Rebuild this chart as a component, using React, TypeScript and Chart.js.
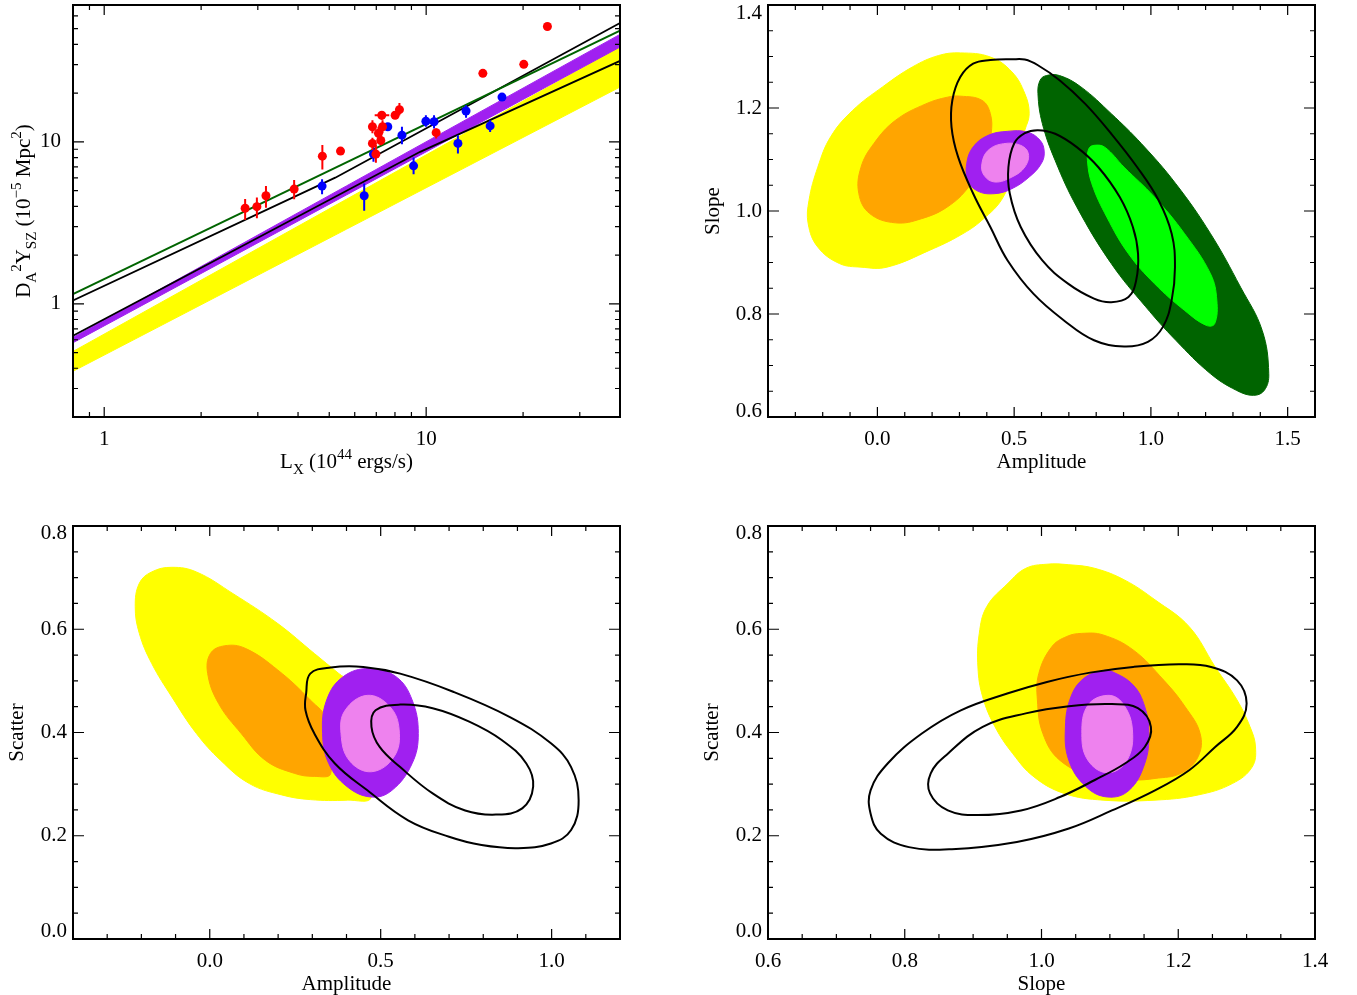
import React, { useEffect, useRef } from 'react';
import { Chart, registerables } from 'chart.js';

Chart.register(...registerables);

const SERIF = '"Liberation Serif", "Times New Roman", "DejaVu Serif", serif';
const FONT_SIZE = 21;

type Pt = [number, number];

// ================= Panel 1: D_A^2 Y_SZ vs L_X =================
const redLx = [2.74, 2.98, 3.18, 3.89, 4.76, 5.42, 6.81, 6.81, 6.98, 7.11, 7.23, 7.32, 7.28, 8.01, 8.26, 10.74, 15.0, 20.1, 23.8];
const redY = [3.89, 3.98, 4.65, 5.11, 8.16, 8.77, 9.78, 12.4, 8.4, 11.3, 10.2, 12.4, 14.6, 14.6, 15.8, 11.4, 26.5, 30.1, 51.6];
const redYLo = [3.29, 3.37, 3.92, 4.42, 6.76, 8.45, 8.89, 11.3, 7.42, 10.2, 9.54, 11.3, 13.7, 13.9, 14.6, 10.5, 26.5, 30.1, 51.6];
const redYHi = [4.43, 4.54, 5.33, 5.81, 9.55, 9.1, 10.6, 13.6, 9.55, 12.4, 11.0, 13.6, 15.3, 15.4, 17.4, 12.1, 26.5, 30.1, 51.6];
const redLxLo = [2.74, 2.98, 3.18, 3.89, 4.76, 5.42, 6.81, 6.81, 6.98, 7.11, 7.23, 7.32, 6.92, 8.01, 8.26, 10.74, 15.0, 20.1, 23.8];
const redLxHi = [2.74, 2.98, 3.18, 3.89, 4.76, 5.42, 6.81, 6.81, 6.98, 7.11, 7.23, 7.32, 7.68, 8.01, 8.26, 10.74, 15.0, 20.1, 23.8];

const blueLx = [4.75, 6.42, 6.86, 7.6, 8.41, 9.14, 9.98, 10.58, 12.55, 13.3, 15.8, 17.2];
const blueY = [5.33, 4.65, 8.4, 12.4, 11.0, 7.11, 13.4, 13.3, 9.78, 15.5, 12.55, 18.9];
const blueYLo = [4.74, 3.76, 7.53, 12.0, 9.68, 6.3, 12.4, 12.1, 8.48, 14.1, 11.5, 18.0];
const blueYHi = [5.87, 5.54, 9.31, 12.8, 12.4, 8.01, 14.6, 14.6, 11.0, 16.8, 13.6, 19.8];

const bandLx = [0.8, 40];
const greenFitY = [1.148, 48.6];
const upperLx = [0.8, 5.22, 40];
const blackUpperY = [1.048, 6.01, 54.2];
const lowerLx = [0.8, 9.58, 40];
const blackLowerY = [0.635, 8.68, 31.6];
const purpleBandTop = [0.62, 46.1];
const purpleBandBottom = [0.575, 38.5];
const yellowBandTop = [0.508, 38.5];
const yellowBandBottom = [0.383, 21.8];

const p1XMajor = [1, 10];
const p1XLabels = ['1', '10'];
const p1XMinor = [0.9, 2, 3, 4, 5, 6, 7, 8, 9, 20, 30];
const p1YMajor = [1, 10];
const p1YLabels = ['1', '10'];
const p1YMinor = [0.3, 0.4, 0.5, 0.6, 0.7, 0.8, 0.9, 2, 3, 4, 5, 6, 7, 8, 9, 20, 30, 40, 50, 60];

// ================= Panel 2: Slope vs Amplitude =================
const p2Yellow: Pt[] = [[0.303, 1.307], [0.413, 1.299], [0.492, 1.27], [0.539, 1.228], [0.555, 1.189], [0.539, 1.157], [0.5, 1.09], [0.46, 1.027], [0.382, 0.982], [0.303, 0.953], [0.192, 0.924], [0.035, 0.891], [-0.06, 0.891], [-0.139, 0.898], [-0.218, 0.93], [-0.253, 0.975], [-0.25, 1.021], [-0.218, 1.085], [-0.171, 1.144], [-0.091, 1.195], [0.019, 1.241], [0.129, 1.28], [0.224, 1.302]];
const p2Orange: Pt[] = [[0.303, 1.223], [0.382, 1.215], [0.413, 1.189], [0.416, 1.15], [0.397, 1.105], [0.334, 1.047], [0.256, 1.008], [0.161, 0.985], [0.066, 0.977], [-0.028, 0.995], [-0.068, 1.034], [-0.06, 1.085], [-0.013, 1.131], [0.066, 1.176], [0.177, 1.208], [0.256, 1.221]];
const p2Purple: Pt[] = [[0.3265, 1.0919], [0.35, 1.1243], [0.405, 1.1469], [0.476, 1.1547], [0.547, 1.1534], [0.595, 1.1372], [0.61, 1.1146], [0.599, 1.0919], [0.555, 1.066], [0.492, 1.0434], [0.429, 1.0337], [0.366, 1.0388], [0.331, 1.0595]];
const p2Violet: Pt[] = [[0.382, 1.0919], [0.405, 1.1178], [0.461, 1.1307], [0.524, 1.1275], [0.552, 1.1113], [0.539, 1.0854], [0.492, 1.066], [0.429, 1.0563], [0.39, 1.0693]];
const p2DarkGreen: Pt[] = [[0.618, 1.263], [0.666, 1.263], [0.744, 1.241], [0.855, 1.189], [0.965, 1.131], [1.091, 1.053], [1.218, 0.956], [1.328, 0.852], [1.407, 0.768], [1.431, 0.684], [1.415, 0.652], [1.375, 0.642], [1.312, 0.652], [1.218, 0.684], [1.091, 0.749], [0.981, 0.814], [0.855, 0.898], [0.729, 1.008], [0.65, 1.098], [0.603, 1.17], [0.587, 1.228], [0.595, 1.254]];
const p2LightGreen: Pt[] = [[0.792, 1.1275], [0.831, 1.124], [0.902, 1.085], [1.013, 1.027], [1.123, 0.956], [1.218, 0.878], [1.241, 0.827], [1.233, 0.781], [1.202, 0.778], [1.123, 0.807], [1.013, 0.859], [0.918, 0.917], [0.839, 0.988], [0.784, 1.053], [0.768, 1.098], [0.773, 1.121]];
const p2BlackOuter: Pt[] = [[0.492, 1.2945], [0.539, 1.294], [0.587, 1.283], [0.666, 1.254], [0.76, 1.208], [0.855, 1.15], [0.95, 1.085], [1.028, 1.021], [1.076, 0.956], [1.088, 0.891], [1.076, 0.827], [1.044, 0.775], [0.989, 0.746], [0.902, 0.737], [0.792, 0.749], [0.681, 0.788], [0.571, 0.839], [0.476, 0.904], [0.413, 0.969], [0.35, 1.034], [0.295, 1.105], [0.271, 1.163], [0.274, 1.215], [0.303, 1.26], [0.35, 1.286], [0.413, 1.293]];
const p2BlackInner: Pt[] = [[0.587, 1.157], [0.65, 1.15], [0.729, 1.124], [0.808, 1.085], [0.886, 1.027], [0.934, 0.969], [0.953, 0.917], [0.946, 0.865], [0.918, 0.833], [0.855, 0.823], [0.792, 0.83], [0.697, 0.859], [0.603, 0.904], [0.524, 0.969], [0.484, 1.034], [0.479, 1.085], [0.5, 1.131], [0.539, 1.151]];

const p2XMajor = [0, 0.5, 1.0, 1.5];
const p2XLabels = ['0.0', '0.5', '1.0', '1.5'];
const p2XMinor = [-0.3, -0.2, -0.1, 0.1, 0.2, 0.3, 0.4, 0.6, 0.7, 0.8, 0.9, 1.1, 1.2, 1.3, 1.4];
const p2YMajor = [0.6, 0.8, 1.0, 1.2, 1.4];
const p2YLabels = ['0.6', '0.8', '1.0', '1.2', '1.4'];
const p2YShifts = [-6, 0, 0, 0, 8];
const p2YMinor = [0.65, 0.7, 0.75, 0.85, 0.9, 0.95, 1.05, 1.1, 1.15, 1.25, 1.3, 1.35];

// ================= Panel 3: Scatter vs Amplitude =================
const p3Yellow: Pt[] = [[-0.111, 0.72], [-0.039, 0.711], [0.068, 0.669], [0.199, 0.611], [0.306, 0.553], [0.378, 0.514], [0.425, 0.489], [0.46, 0.4], [0.473, 0.275], [0.402, 0.269], [0.294, 0.27], [0.211, 0.279], [0.116, 0.301], [0.032, 0.346], [-0.039, 0.398], [-0.111, 0.469], [-0.17, 0.534], [-0.206, 0.592], [-0.218, 0.644], [-0.206, 0.689], [-0.17, 0.711]];
const p3Orange: Pt[] = [[0.044, 0.568], [0.104, 0.563], [0.199, 0.521], [0.294, 0.463], [0.342, 0.424], [0.354, 0.321], [0.306, 0.315], [0.247, 0.321], [0.163, 0.346], [0.092, 0.398], [0.026, 0.456], [-0.006, 0.514], [0.002, 0.553]];
const p3Purple: Pt[] = [[0.33, 0.398], [0.342, 0.463], [0.39, 0.508], [0.467, 0.524], [0.545, 0.508], [0.592, 0.463], [0.61, 0.398], [0.592, 0.34], [0.533, 0.288], [0.473, 0.275], [0.402, 0.295], [0.348, 0.34]];
const p3Violet: Pt[] = [[0.384, 0.398], [0.396, 0.443], [0.461, 0.472], [0.527, 0.45], [0.554, 0.405], [0.539, 0.353], [0.473, 0.324], [0.408, 0.346]];
const p3BlackOuter: Pt[] = [[0.282, 0.476], [0.294, 0.514], [0.354, 0.526], [0.449, 0.527], [0.557, 0.514], [0.712, 0.479], [0.878, 0.43], [0.998, 0.379], [1.057, 0.333], [1.079, 0.269], [1.057, 0.211], [0.998, 0.185], [0.902, 0.176], [0.795, 0.182], [0.7, 0.198], [0.58, 0.23], [0.461, 0.288], [0.366, 0.34], [0.306, 0.398], [0.28, 0.443]];
const p3BlackInner: Pt[] = [[0.473, 0.411], [0.485, 0.443], [0.557, 0.454], [0.652, 0.447], [0.759, 0.421], [0.855, 0.385], [0.926, 0.34], [0.946, 0.295], [0.914, 0.253], [0.837, 0.241], [0.747, 0.249], [0.652, 0.282], [0.557, 0.333], [0.497, 0.372]];

const p3XMajor = [0, 0.5, 1.0];
const p3XLabels = ['0.0', '0.5', '1.0'];
const p3XMinor = [-0.3, -0.2, -0.1, 0.1, 0.2, 0.3, 0.4, 0.6, 0.7, 0.8, 0.9, 1.1];
const scatterMajor = [0, 0.2, 0.4, 0.6, 0.8];
const scatterLabels = ['0.0', '0.2', '0.4', '0.6', '0.8'];
const scatterShifts = [-8, 0, 0, 0, 7];
const scatterMinor = [0.05, 0.1, 0.15, 0.25, 0.3, 0.35, 0.45, 0.5, 0.55, 0.65, 0.7, 0.75];

// ================= Panel 4: Scatter vs Slope =================
const p4Yellow: Pt[] = [[1.008, 0.726], [0.977, 0.718], [0.951, 0.689], [0.92, 0.644], [0.909, 0.592], [0.907, 0.527], [0.914, 0.469], [0.932, 0.411], [0.958, 0.359], [0.989, 0.314], [1.033, 0.282], [1.09, 0.269], [1.166, 0.269], [1.229, 0.279], [1.279, 0.301], [1.308, 0.333], [1.313, 0.372], [1.305, 0.411], [1.286, 0.463], [1.254, 0.527], [1.216, 0.605], [1.166, 0.657], [1.122, 0.695], [1.078, 0.718], [1.04, 0.725]];
const p4Orange: Pt[] = [[1.059, 0.592], [1.09, 0.589], [1.134, 0.56], [1.179, 0.501], [1.21, 0.45], [1.232, 0.398], [1.229, 0.353], [1.204, 0.321], [1.166, 0.311], [1.134, 0.308], [1.078, 0.314], [1.027, 0.346], [1.002, 0.398], [0.994, 0.463], [0.996, 0.514], [1.015, 0.566], [1.037, 0.586]];
const p4Purple: Pt[] = [[1.09, 0.52], [1.103, 0.518], [1.134, 0.492], [1.151, 0.45], [1.157, 0.398], [1.151, 0.34], [1.128, 0.288], [1.097, 0.275], [1.065, 0.295], [1.04, 0.346], [1.035, 0.411], [1.043, 0.469], [1.062, 0.505]];
const p4Violet: Pt[] = [[1.097, 0.472], [1.119, 0.456], [1.133, 0.405], [1.125, 0.346], [1.097, 0.322], [1.068, 0.346], [1.059, 0.398], [1.068, 0.453]];
const p4BlackOuter: Pt[] = [[1.201, 0.532], [1.248, 0.527], [1.286, 0.501], [1.3, 0.456], [1.286, 0.411], [1.254, 0.372], [1.216, 0.327], [1.166, 0.288], [1.103, 0.249], [1.04, 0.214], [0.964, 0.188], [0.869, 0.174], [0.806, 0.178], [0.765, 0.204], [0.75, 0.243], [0.75, 0.288], [0.775, 0.34], [0.825, 0.398], [0.882, 0.443], [0.951, 0.476], [1.008, 0.498], [1.071, 0.516], [1.134, 0.527]];
const p4BlackInner: Pt[] = [[1.103, 0.455], [1.141, 0.447], [1.16, 0.411], [1.151, 0.372], [1.122, 0.34], [1.078, 0.308], [1.027, 0.275], [0.97, 0.249], [0.907, 0.24], [0.863, 0.249], [0.837, 0.282], [0.838, 0.321], [0.863, 0.359], [0.914, 0.411], [0.977, 0.437], [1.04, 0.451]];

const p4XMajor = [0.6, 0.8, 1.0, 1.2, 1.4];
const p4XLabels = ['0.6', '0.8', '1.0', '1.2', '1.4'];
const p4XMinor = [0.65, 0.7, 0.75, 0.85, 0.9, 0.95, 1.05, 1.1, 1.15, 1.25, 1.3, 1.35];

// ================= Colours =================
const YELLOW = '#ffff00';
const ORANGE = '#ffa500';
const PURPLE = '#a020f0';
const VIOLET = '#ee82ee';
const DARKGREEN = '#006400';
const LIGHTGREEN = '#00ff00';

// ================= Helpers =================
type TickDef = { value: number; big: boolean; label: string; shift: number };

function buildTicks(major: number[], labels: string[], minor: number[], shifts: number[] = []): TickDef[] {
  const list: TickDef[] = [
    ...major.map((v, i) => ({ value: v, big: true, label: labels[i], shift: shifts[i] || 0 })),
    ...minor.map((v) => ({ value: v, big: false, label: '', shift: 0 })),
  ];
  return list.sort((a, b) => a.value - b.value);
}

function scaleCfg(type: string, min: number, max: number, ticks: TickDef[], vertical: boolean, size: number, padding: number) {
  return {
    type,
    min,
    max,
    bounds: 'data',
    grid: { display: false, drawTicks: false },
    border: { display: false },
    title: { display: false },
    ticks: {
      autoSkip: false,
      maxRotation: 0,
      minRotation: 0,
      padding,
      color: '#000',
      font: (c: any) => {
        const t = c && typeof c.index === 'number' ? ticks[c.index] : undefined;
        return { family: SERIF, size: FONT_SIZE, lineHeight: t && t.shift ? `${Math.abs(t.shift) * 2}px` : 1.2 };
      },
      callback: (_v: any, i: number) => {
        const t = ticks[i];
        if (!t) return '';
        if (t.shift > 0) return ['', t.label];
        if (t.shift < 0) return [t.label, ''];
        return t.label;
      },
    },
    afterBuildTicks: (s: any) => {
      s.ticks = ticks.map((t) => ({ value: t.value, big: t.big }));
    },
    afterFit: (s: any) => {
      if (vertical) s.width = size;
      else s.height = size;
      s.paddingTop = 0;
      s.paddingBottom = 0;
      s.paddingLeft = 0;
      s.paddingRight = 0;
    },
  };
}

function shape(pts: Pt[], color: string, order: number) {
  return {
    data: pts.map(([x, y]) => ({ x, y })),
    closed: true,
    backgroundColor: color,
    borderColor: color,
    borderWidth: 1,
    fill: 'shape',
    pointRadius: 0,
    tension: 0.4,
    order,
  };
}

function outline(pts: Pt[], order: number) {
  return {
    data: pts.map(([x, y]) => ({ x, y })),
    closed: true,
    borderColor: '#000',
    backgroundColor: 'transparent',
    borderWidth: 2,
    fill: false,
    pointRadius: 0,
    tension: 0.4,
    order,
  };
}

function fitLine(xs: number[], ys: number[], color: string, order: number, width = 2, fill: any = false) {
  return {
    data: xs.map((x, i) => ({ x, y: ys[i] })),
    borderColor: color,
    backgroundColor: color,
    borderWidth: width,
    fill,
    pointRadius: 0,
    tension: 0,
    order,
  };
}

// closes contour datasets into smooth loops
const loopPlugin = {
  id: 'closedLoops',
  afterDatasetUpdate(chart: any, args: any) {
    const ds: any = chart.data.datasets[args.index];
    if (!ds || !ds.closed) return;
    const meta = chart.getDatasetMeta(args.index);
    if (meta && meta.dataset) {
      meta.dataset._loop = true;
      meta.dataset._fullLoop = true;
    }
  },
};

const framePlugin = {
  id: 'idlFrame',
  afterDatasetsDraw(chart: any) {
    const { ctx, chartArea: a } = chart;
    const xs = chart.scales.x;
    const ys = chart.scales.y;
    ctx.save();
    ctx.strokeStyle = '#000';
    ctx.lineWidth = 1.2;
    ctx.beginPath();
    for (const t of xs.ticks) {
      const p = xs.getPixelForValue(t.value);
      if (p <= a.left + 1 || p >= a.right - 1) continue;
      const len = t.big ? 10 : 5;
      ctx.moveTo(p, a.bottom);
      ctx.lineTo(p, a.bottom - len);
      ctx.moveTo(p, a.top);
      ctx.lineTo(p, a.top + len);
    }
    for (const t of ys.ticks) {
      const p = ys.getPixelForValue(t.value);
      if (p <= a.top + 1 || p >= a.bottom - 1) continue;
      const len = t.big ? 11 : 5;
      ctx.moveTo(a.left, p);
      ctx.lineTo(a.left + len, p);
      ctx.moveTo(a.right, p);
      ctx.lineTo(a.right - len, p);
    }
    ctx.stroke();
    ctx.lineWidth = 2;
    ctx.strokeRect(a.left, a.top, a.right - a.left, a.bottom - a.top);
    ctx.restore();
  },
};

const errorBarPlugin = {
  id: 'errorBars',
  beforeDatasetDraw(chart: any, args: any) {
    const ds: any = chart.data.datasets[args.index];
    if (!ds || !ds.errYLo) return;
    const { ctx } = chart;
    const xs = chart.scales.x;
    const ys = chart.scales.y;
    ctx.save();
    ctx.strokeStyle = ds.errColor;
    ctx.lineWidth = 2;
    ctx.beginPath();
    ds.data.forEach((d: any, i: number) => {
      const px = xs.getPixelForValue(d.x);
      const py = ys.getPixelForValue(d.y);
      ctx.moveTo(px, ys.getPixelForValue(ds.errYLo[i]));
      ctx.lineTo(px, ys.getPixelForValue(ds.errYHi[i]));
      if (ds.errXLo && ds.errXLo[i] !== ds.errXHi[i]) {
        ctx.moveTo(xs.getPixelForValue(ds.errXLo[i]), py);
        ctx.lineTo(xs.getPixelForValue(ds.errXHi[i]), py);
      }
    });
    ctx.stroke();
    ctx.restore();
  },
};

type Seg = { t: string; k?: 'sub' | 'sup' };
type TitleDef = { segs: Seg[]; x: number; y: number; rot: number };

function titlesPlugin(items: TitleDef[]) {
  return {
    id: 'richTitles',
    afterDraw(chart: any) {
      const ctx = chart.ctx;
      const small = Math.round(FONT_SIZE * 0.7);
      ctx.save();
      ctx.fillStyle = '#000';
      ctx.textBaseline = 'alphabetic';
      ctx.textAlign = 'left';
      for (const it of items) {
        let w = 0;
        const ws = it.segs.map((s) => {
          ctx.font = `${s.k ? small : FONT_SIZE}px ${SERIF}`;
          const m = ctx.measureText(s.t).width;
          w += m;
          return m;
        });
        ctx.save();
        ctx.translate(it.x, it.y);
        ctx.rotate(it.rot);
        let x = -w / 2;
        const base = FONT_SIZE * 0.33;
        it.segs.forEach((s, i) => {
          ctx.font = `${s.k ? small : FONT_SIZE}px ${SERIF}`;
          const dy = s.k === 'sub' ? FONT_SIZE * 0.3 : s.k === 'sup' ? -FONT_SIZE * 0.42 : 0;
          ctx.fillText(s.t, x, base + dy);
          x += ws[i];
        });
        ctx.restore();
      }
      ctx.restore();
    },
  };
}

function baseOptions(padding: any, scales: any) {
  return {
    responsive: false,
    animation: false,
    devicePixelRatio: 1,
    events: [],
    layout: { padding },
    plugins: { legend: { display: false }, tooltip: { enabled: false }, title: { display: false } },
    scales,
  };
}

// ================= Panel builders =================
function makePanel1(): any {
  const datasets: any[] = [
    {
      data: redLx.map((x, i) => ({ x, y: redY[i] })),
      showLine: false,
      pointRadius: 4.5,
      pointBackgroundColor: '#ff0000',
      pointBorderWidth: 0,
      order: 1,
      errColor: '#ff0000',
      errYLo: redYLo,
      errYHi: redYHi,
      errXLo: redLxLo,
      errXHi: redLxHi,
    },
    {
      data: blueLx.map((x, i) => ({ x, y: blueY[i] })),
      showLine: false,
      pointRadius: 4.5,
      pointBackgroundColor: '#0000ff',
      pointBorderWidth: 0,
      order: 1,
      errColor: '#0000ff',
      errYLo: blueYLo,
      errYHi: blueYHi,
    },
    fitLine(bandLx, greenFitY, DARKGREEN, 2, 1.8),
    fitLine(upperLx, blackUpperY, '#000', 2, 1.8),
    fitLine(lowerLx, blackLowerY, '#000', 2, 1.8),
    fitLine(bandLx, purpleBandTop, PURPLE, 3, 1, '+1'),
    fitLine(bandLx, purpleBandBottom, PURPLE, 3, 1),
    fitLine(bandLx, yellowBandTop, YELLOW, 4, 1, '+1'),
    fitLine(bandLx, yellowBandBottom, YELLOW, 4, 1),
  ];
  return {
    type: 'line',
    data: { datasets },
    options: baseOptions({ left: 0, top: 5, right: 60, bottom: 0 }, {
      x: scaleCfg('logarithmic', 0.8, 40, buildTicks(p1XMajor, p1XLabels, p1XMinor), false, 78, 10),
      y: scaleCfg('logarithmic', 0.2, 70, buildTicks(p1YMajor, p1YLabels, p1YMinor), true, 73, 12),
    }),
    plugins: [
      errorBarPlugin,
      framePlugin,
      titlesPlugin([
        { segs: [{ t: 'L' }, { t: 'X', k: 'sub' }, { t: ' (10' }, { t: '44', k: 'sup' }, { t: ' ergs/s)' }], x: 346.5, y: 461, rot: 0 },
        {
          segs: [{ t: 'D' }, { t: 'A', k: 'sub' }, { t: '2', k: 'sup' }, { t: 'Y' }, { t: 'SZ', k: 'sub' }, { t: ' (10' }, { t: '\u22125', k: 'sup' }, { t: ' Mpc' }, { t: '2', k: 'sup' }, { t: ')' }],
          x: 23,
          y: 211,
          rot: -Math.PI / 2,
        },
      ]),
    ],
  };
}

function makePanel2(): any {
  const datasets: any[] = [
    outline(p2BlackInner, 1),
    outline(p2BlackOuter, 1),
    shape(p2LightGreen, LIGHTGREEN, 2),
    shape(p2DarkGreen, DARKGREEN, 3),
    shape(p2Violet, VIOLET, 4),
    shape(p2Purple, PURPLE, 5),
    shape(p2Orange, ORANGE, 6),
    shape(p2Yellow, YELLOW, 7),
  ];
  return {
    type: 'line',
    data: { datasets },
    options: baseOptions({ left: 0, top: 5, right: 42, bottom: 0 }, {
      x: scaleCfg('linear', -0.4, 1.6, buildTicks(p2XMajor, p2XLabels, p2XMinor), false, 78, 10),
      y: scaleCfg('linear', 0.6, 1.4, buildTicks(p2YMajor, p2YLabels, p2YMinor, p2YShifts), true, 88, 6),
    }),
    plugins: [
      loopPlugin,
      framePlugin,
      titlesPlugin([
        { segs: [{ t: 'Amplitude' }], x: 361.5, y: 461, rot: 0 },
        { segs: [{ t: 'Slope' }], x: 32, y: 211, rot: -Math.PI / 2 },
      ]),
    ],
  };
}

function makePanel3(): any {
  const datasets: any[] = [
    outline(p3BlackInner, 1),
    outline(p3BlackOuter, 1),
    shape(p3Violet, VIOLET, 2),
    shape(p3Purple, PURPLE, 3),
    shape(p3Orange, ORANGE, 4),
    shape(p3Yellow, YELLOW, 5),
  ];
  return {
    type: 'line',
    data: { datasets },
    options: baseOptions({ left: 0, top: 31, right: 60, bottom: 0 }, {
      x: scaleCfg('linear', -0.4, 1.2, buildTicks(p3XMajor, p3XLabels, p3XMinor), false, 56, 10),
      y: scaleCfg('linear', 0, 0.8, buildTicks(scatterMajor, scatterLabels, scatterMinor, scatterShifts), true, 73, 6),
    }),
    plugins: [
      loopPlugin,
      framePlugin,
      titlesPlugin([
        { segs: [{ t: 'Amplitude' }], x: 346.5, y: 488, rot: 0 },
        { segs: [{ t: 'Scatter' }], x: 16, y: 237.5, rot: -Math.PI / 2 },
      ]),
    ],
  };
}

function makePanel4(): any {
  const datasets: any[] = [
    outline(p4BlackInner, 1),
    outline(p4BlackOuter, 1),
    shape(p4Violet, VIOLET, 2),
    shape(p4Purple, PURPLE, 3),
    shape(p4Orange, ORANGE, 4),
    shape(p4Yellow, YELLOW, 5),
  ];
  return {
    type: 'line',
    data: { datasets },
    options: baseOptions({ left: 0, top: 31, right: 42, bottom: 0 }, {
      x: scaleCfg('linear', 0.6, 1.4, buildTicks(p4XMajor, p4XLabels, p4XMinor), false, 56, 10),
      y: scaleCfg('linear', 0, 0.8, buildTicks(scatterMajor, scatterLabels, scatterMinor, scatterShifts), true, 88, 6),
    }),
    plugins: [
      loopPlugin,
      framePlugin,
      titlesPlugin([
        { segs: [{ t: 'Slope' }], x: 361.5, y: 488, rot: 0 },
        { segs: [{ t: 'Scatter' }], x: 31, y: 237.5, rot: -Math.PI / 2 },
      ]),
    ],
  };
}

function Panel(props: { left: number; top: number; width: number; height: number; make: () => any }) {
  const ref = useRef<HTMLCanvasElement>(null);
  useEffect(() => {
    const chart = new Chart(ref.current as HTMLCanvasElement, props.make());
    return () => chart.destroy();
  }, []);
  return (
    <canvas
      ref={ref}
      width={props.width}
      height={props.height}
      style={{ position: 'absolute', left: props.left, top: props.top, width: props.width, height: props.height, display: 'block' }}
    />
  );
}

export default function App() {
  return (
    <div style={{ position: 'fixed', left: 0, top: 0, width: 1357, height: 995, background: '#ffffff', overflow: 'hidden' }}>
      <Panel left={0} top={0} width={680} height={495} make={makePanel1} />
      <Panel left={680} top={0} width={677} height={495} make={makePanel2} />
      <Panel left={0} top={495} width={680} height={500} make={makePanel3} />
      <Panel left={680} top={495} width={677} height={500} make={makePanel4} />
    </div>
  );
}
